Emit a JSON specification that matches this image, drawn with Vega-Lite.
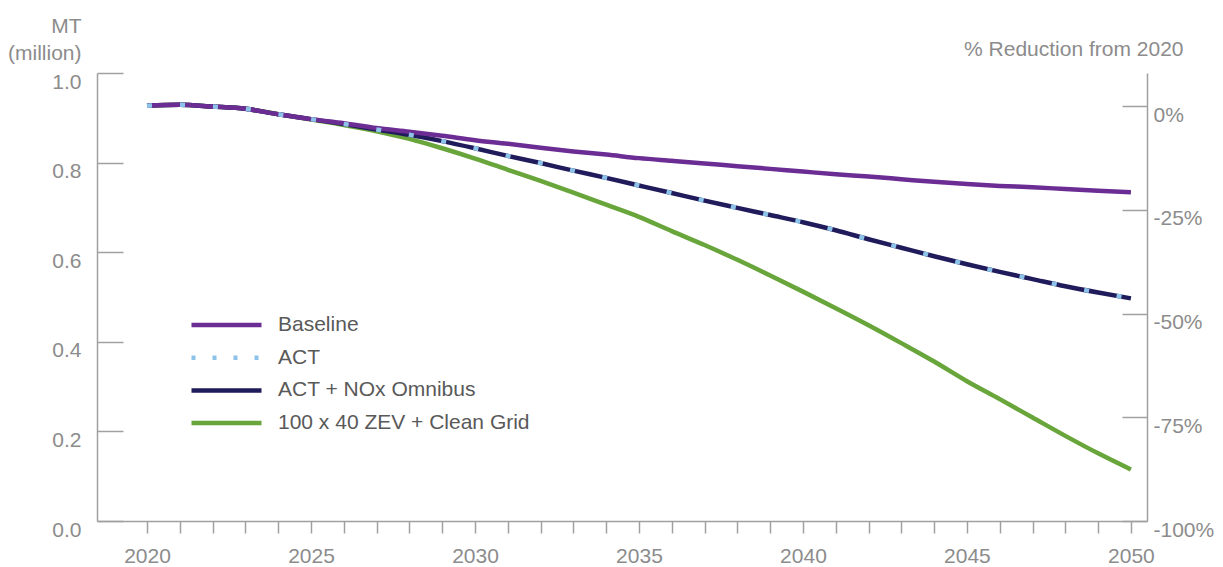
{
 "$schema": "https://vega.github.io/schema/vega-lite/v6.json",
 "width": 1050, "height": 448,
 "autosize": {"type": "none"},
 "padding": {"left": 97, "top": 73, "right": 76, "bottom": 46},
 "background": "white",
 "config": {"view": {"stroke": null}, "font": "Liberation Sans"},
 "datasets": {
  "d": [
{"year":2020,"series":"Baseline","value":0.927},{"year":2021,"series":"Baseline","value":0.929},{"year":2022,"series":"Baseline","value":0.925},{"year":2023,"series":"Baseline","value":0.920},{"year":2024,"series":"Baseline","value":0.908},{"year":2025,"series":"Baseline","value":0.897},{"year":2026,"series":"Baseline","value":0.888},{"year":2027,"series":"Baseline","value":0.877},{"year":2028,"series":"Baseline","value":0.869},{"year":2029,"series":"Baseline","value":0.860},{"year":2030,"series":"Baseline","value":0.850},{"year":2031,"series":"Baseline","value":0.842},{"year":2032,"series":"Baseline","value":0.833},{"year":2033,"series":"Baseline","value":0.825},{"year":2034,"series":"Baseline","value":0.818},{"year":2035,"series":"Baseline","value":0.810},{"year":2036,"series":"Baseline","value":0.804},{"year":2037,"series":"Baseline","value":0.798},{"year":2038,"series":"Baseline","value":0.792},{"year":2039,"series":"Baseline","value":0.786},{"year":2040,"series":"Baseline","value":0.780},{"year":2041,"series":"Baseline","value":0.774},{"year":2042,"series":"Baseline","value":0.769},{"year":2043,"series":"Baseline","value":0.763},{"year":2044,"series":"Baseline","value":0.757},{"year":2045,"series":"Baseline","value":0.752},{"year":2046,"series":"Baseline","value":0.748},{"year":2047,"series":"Baseline","value":0.745},{"year":2048,"series":"Baseline","value":0.741},{"year":2049,"series":"Baseline","value":0.737},{"year":2050,"series":"Baseline","value":0.734},
{"year":2020,"series":"ACT","value":0.927},{"year":2021,"series":"ACT","value":0.929},{"year":2022,"series":"ACT","value":0.925},{"year":2023,"series":"ACT","value":0.920},{"year":2024,"series":"ACT","value":0.908},{"year":2025,"series":"ACT","value":0.897},{"year":2026,"series":"ACT","value":0.886},{"year":2027,"series":"ACT","value":0.874},{"year":2028,"series":"ACT","value":0.862},{"year":2029,"series":"ACT","value":0.848},{"year":2030,"series":"ACT","value":0.832},{"year":2031,"series":"ACT","value":0.815},{"year":2032,"series":"ACT","value":0.799},{"year":2033,"series":"ACT","value":0.782},{"year":2034,"series":"ACT","value":0.766},{"year":2035,"series":"ACT","value":0.749},{"year":2036,"series":"ACT","value":0.732},{"year":2037,"series":"ACT","value":0.715},{"year":2038,"series":"ACT","value":0.699},{"year":2039,"series":"ACT","value":0.683},{"year":2040,"series":"ACT","value":0.667},{"year":2041,"series":"ACT","value":0.649},{"year":2042,"series":"ACT","value":0.629},{"year":2043,"series":"ACT","value":0.610},{"year":2044,"series":"ACT","value":0.591},{"year":2045,"series":"ACT","value":0.573},{"year":2046,"series":"ACT","value":0.556},{"year":2047,"series":"ACT","value":0.540},{"year":2048,"series":"ACT","value":0.524},{"year":2049,"series":"ACT","value":0.510},{"year":2050,"series":"ACT","value":0.497},
{"year":2020,"series":"ACT + NOx Omnibus","value":0.927},{"year":2021,"series":"ACT + NOx Omnibus","value":0.929},{"year":2022,"series":"ACT + NOx Omnibus","value":0.925},{"year":2023,"series":"ACT + NOx Omnibus","value":0.920},{"year":2024,"series":"ACT + NOx Omnibus","value":0.908},{"year":2025,"series":"ACT + NOx Omnibus","value":0.897},{"year":2026,"series":"ACT + NOx Omnibus","value":0.886},{"year":2027,"series":"ACT + NOx Omnibus","value":0.874},{"year":2028,"series":"ACT + NOx Omnibus","value":0.862},{"year":2029,"series":"ACT + NOx Omnibus","value":0.848},{"year":2030,"series":"ACT + NOx Omnibus","value":0.832},{"year":2031,"series":"ACT + NOx Omnibus","value":0.815},{"year":2032,"series":"ACT + NOx Omnibus","value":0.799},{"year":2033,"series":"ACT + NOx Omnibus","value":0.782},{"year":2034,"series":"ACT + NOx Omnibus","value":0.766},{"year":2035,"series":"ACT + NOx Omnibus","value":0.749},{"year":2036,"series":"ACT + NOx Omnibus","value":0.732},{"year":2037,"series":"ACT + NOx Omnibus","value":0.715},{"year":2038,"series":"ACT + NOx Omnibus","value":0.699},{"year":2039,"series":"ACT + NOx Omnibus","value":0.683},{"year":2040,"series":"ACT + NOx Omnibus","value":0.667},{"year":2041,"series":"ACT + NOx Omnibus","value":0.649},{"year":2042,"series":"ACT + NOx Omnibus","value":0.629},{"year":2043,"series":"ACT + NOx Omnibus","value":0.610},{"year":2044,"series":"ACT + NOx Omnibus","value":0.591},{"year":2045,"series":"ACT + NOx Omnibus","value":0.573},{"year":2046,"series":"ACT + NOx Omnibus","value":0.556},{"year":2047,"series":"ACT + NOx Omnibus","value":0.540},{"year":2048,"series":"ACT + NOx Omnibus","value":0.524},{"year":2049,"series":"ACT + NOx Omnibus","value":0.510},{"year":2050,"series":"ACT + NOx Omnibus","value":0.497},
{"year":2020,"series":"100 x 40 ZEV + Clean Grid","value":0.927},{"year":2021,"series":"100 x 40 ZEV + Clean Grid","value":0.929},{"year":2022,"series":"100 x 40 ZEV + Clean Grid","value":0.925},{"year":2023,"series":"100 x 40 ZEV + Clean Grid","value":0.920},{"year":2024,"series":"100 x 40 ZEV + Clean Grid","value":0.908},{"year":2025,"series":"100 x 40 ZEV + Clean Grid","value":0.896},{"year":2026,"series":"100 x 40 ZEV + Clean Grid","value":0.884},{"year":2027,"series":"100 x 40 ZEV + Clean Grid","value":0.870},{"year":2028,"series":"100 x 40 ZEV + Clean Grid","value":0.853},{"year":2029,"series":"100 x 40 ZEV + Clean Grid","value":0.832},{"year":2030,"series":"100 x 40 ZEV + Clean Grid","value":0.809},{"year":2031,"series":"100 x 40 ZEV + Clean Grid","value":0.784},{"year":2032,"series":"100 x 40 ZEV + Clean Grid","value":0.759},{"year":2033,"series":"100 x 40 ZEV + Clean Grid","value":0.733},{"year":2034,"series":"100 x 40 ZEV + Clean Grid","value":0.706},{"year":2035,"series":"100 x 40 ZEV + Clean Grid","value":0.679},{"year":2036,"series":"100 x 40 ZEV + Clean Grid","value":0.647},{"year":2037,"series":"100 x 40 ZEV + Clean Grid","value":0.616},{"year":2038,"series":"100 x 40 ZEV + Clean Grid","value":0.583},{"year":2039,"series":"100 x 40 ZEV + Clean Grid","value":0.548},{"year":2040,"series":"100 x 40 ZEV + Clean Grid","value":0.512},{"year":2041,"series":"100 x 40 ZEV + Clean Grid","value":0.475},{"year":2042,"series":"100 x 40 ZEV + Clean Grid","value":0.437},{"year":2043,"series":"100 x 40 ZEV + Clean Grid","value":0.397},{"year":2044,"series":"100 x 40 ZEV + Clean Grid","value":0.356},{"year":2045,"series":"100 x 40 ZEV + Clean Grid","value":0.312},{"year":2046,"series":"100 x 40 ZEV + Clean Grid","value":0.272},{"year":2047,"series":"100 x 40 ZEV + Clean Grid","value":0.231},{"year":2048,"series":"100 x 40 ZEV + Clean Grid","value":0.190},{"year":2049,"series":"100 x 40 ZEV + Clean Grid","value":0.151},{"year":2050,"series":"100 x 40 ZEV + Clean Grid","value":0.115}
  ]
 },
 "data": {"name": "d"},
 "encoding": {
  "x": {"field": "year", "type": "quantitative",
   "scale": {"domain": [2018.475, 2050.49], "nice": false, "zero": false},
   "axis": {"title": null, "values": [2020,2021,2022,2023,2024,2025,2026,2027,2028,2029,2030,2031,2032,2033,2034,2035,2036,2037,2038,2039,2040,2041,2042,2043,2044,2045,2046,2047,2048,2049,2050],
    "labelExpr": "datum.value % 5 === 0 ? datum.label : ''", "format": "d",
    "grid": false, "domainColor": "#A0A0A0", "domainWidth": 1.5, "tickColor": "#A0A0A0", "tickWidth": 1.5, "tickSize": 12,
    "labelFontSize": 21, "labelColor": "#8C8C8C", "labelFont": "Liberation Sans", "labelPadding": 12, "labelOverlap": false, "labelFlush": false}},
  "color": {"field": "series", "type": "nominal",
   "scale": {"domain": ["Baseline", "ACT", "ACT + NOx Omnibus", "100 x 40 ZEV + Clean Grid"], "range": ["#6B2C94", "#8DC3E8", "#201C5C", "#68A53A"]},
   "legend": {"title": null, "orient": "none", "legendX": 92, "legendY": 242, "direction": "vertical", "padding": 0,
    "symbolType": "stroke", "symbolSize": 4900, "symbolStrokeWidth": 4.5, "clipHeight": 20, "rowPadding": 11.7,
    "labelFontSize": 21, "labelColor": "#595959", "labelFont": "Liberation Sans", "labelOffset": 14, "labelLimit": 400,
    "encode": {"symbols": {"update": {"strokeDash": {"signal": "datum.value === 'ACT' ? [4,17] : [1,0]"}}}}}}
 },
 "layer": [
  {"transform": [{"filter": "datum.series === '100 x 40 ZEV + Clean Grid'"}],
   "mark": {"type": "line", "strokeWidth": 4.5, "interpolate": "monotone"},
   "encoding": {"y": {"field": "value", "type": "quantitative", "scale": {"domain": [0, 1], "nice": false},
    "axis": {"orient": "left", "values": [0, 0.2, 0.4, 0.6, 0.8, 1.0], "format": ".1f", "grid": false,
     "domainColor": "#A0A0A0", "domainWidth": 1.5, "tickColor": "#A0A0A0", "tickWidth": 1.5, "tickSize": -26,
     "labelFontSize": 21, "labelColor": "#8C8C8C", "labelFont": "Liberation Sans", "labelPadding": 42, "labelOffset": 9,
     "title": ["MT", "(million)"], "titleAngle": 0, "titleAlign": "right", "titleBaseline": "alphabetic", "titleX": -16, "titleY": -41,
     "titleFontSize": 21, "titleFontWeight": "normal", "titleColor": "#8C8C8C", "titleFont": "Liberation Sans", "titleLineHeight": 27}}}},
  {"transform": [{"filter": "datum.series === 'ACT + NOx Omnibus'"}],
   "mark": {"type": "line", "strokeWidth": 4.5, "interpolate": "monotone"},
   "encoding": {"y": {"field": "value", "type": "quantitative", "scale": {"domain": [0, 1], "nice": false}, "axis": null}}},
  {"transform": [{"filter": "datum.series === 'Baseline'"}],
   "mark": {"type": "line", "strokeWidth": 4.5, "interpolate": "monotone"},
   "encoding": {"y": {"field": "value", "type": "quantitative", "scale": {"domain": [0, 1], "nice": false}, "axis": null}}},
  {"transform": [{"filter": "datum.series === 'ACT'"}],
   "mark": {"type": "line", "strokeWidth": 4.5, "interpolate": "monotone", "strokeDash": [5, 28]},
   "encoding": {"y": {"field": "value", "type": "quantitative", "scale": {"domain": [0, 1], "nice": false},
    "axis": {"orient": "right", "values": [0, 0.2315, 0.463, 0.6945, 0.926], "labelExpr": "round((datum.value / 0.926 - 1) * 100) + '%'", "grid": false,
     "domainColor": "#A0A0A0", "domainWidth": 1.5, "tickColor": "#A0A0A0", "tickWidth": 1.5, "tickSize": -25,
     "labelFontSize": 21, "labelColor": "#8C8C8C", "labelFont": "Liberation Sans", "labelPadding": 31, "labelOffset": 9,
     "title": "% Reduction from 2020", "titleAngle": 0, "titleAlign": "right", "titleBaseline": "alphabetic", "titleX": 36, "titleY": -18,
     "titleFontSize": 21, "titleFontWeight": "normal", "titleColor": "#8C8C8C", "titleFont": "Liberation Sans"}}}}
 ],
 "resolve": {"axis": {"y": "independent"}}
}
